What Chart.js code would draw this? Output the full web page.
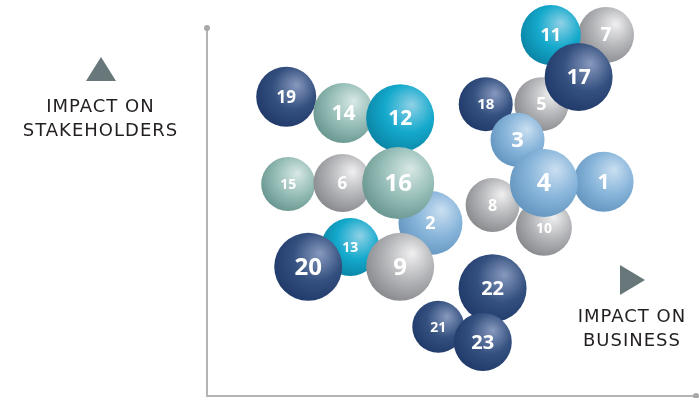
<!DOCTYPE html>
<html>
<head>
<meta charset="utf-8">
<script src="https://cdn.jsdelivr.net/npm/chart.js@4/dist/chart.umd.min.js"></script>
<style>
  body { margin: 0; background: #fff; }
  #wrap { position: relative; width: 699px; height: 398px; }
  .axisTitle {
    position: absolute; text-align: center; color: #231f20;
    font-family: "DejaVu Sans", sans-serif; font-size: 18px; line-height: 24px;
    letter-spacing: 1px; white-space: nowrap;
  }
</style>
</head>
<body>
<div id="wrap">
  <canvas id="matrixChart" width="699" height="398"></canvas>
  <div class="axisTitle" style="left:0; width:201px; top:94px;">IMPACT ON<br>STAKEHOLDERS</div>
  <div class="axisTitle" style="left:571px; width:122px; top:304px;">IMPACT ON<br>BUSINESS</div>
</div>
<script>
// topics 1..23
const topics = ['1','2','3','4','5','6','7','8','9','10','11','12','13','14','15','16','17','18','19','20','21','22','23'];
// impact on business (0-100)
const businessImpact = [81.1, 45.7, 63.5, 68.9, 68.4, 27.7, 81.6, 58.4, 39.5, 68.9, 70.3, 39.5, 29.3, 27.9, 16.6, 39.1, 76.0, 57.0, 16.2, 20.7, 47.3, 58.4, 56.4];
// impact on stakeholders (0-100)
const stakeholderImpact = [58.2, 47.0, 69.6, 57.9, 79.3, 57.9, 98.1, 51.9, 35.1, 45.7, 98.1, 75.5, 40.5, 76.9, 57.6, 57.9, 86.7, 79.3, 81.3, 35.1, 18.8, 29.3, 14.7];
// bubble radius (px)
const bubbleSize = [30, 32, 27, 34, 27, 29, 28, 27, 34, 28, 30, 34, 29, 30, 27, 36, 34, 27, 30, 34, 26, 34, 29];
const topicGroup = ['blue','blue','blue','blue','silver','silver','silver','silver','silver','silver','cyan','cyan','cyan','sage','sage','sage','navy','navy','navy','navy','navy','navy','navy'];
// number font size per topic (px)
const labelPx = [21, 18, 22, 25, 18, 17, 19, 16, 24, 14, 18, 21, 14, 21, 14, 24, 21, 15, 17, 24, 14, 20, 20];
// stacking, bottom first
const drawOrder = ['18','5','7','11','17','3','1','8','10','4','19','14','12','15','6','2','16','13','20','9','21','22','23'];

// highlight, mid, dark
const palette = {
    navy:   ['#8799be', '#34507f', '#1b3565'],
    cyan:   ['#8fd1e6', '#14a9cc', '#087c9c'],
    blue:   ['#cadff1', '#88b5da', '#5b8eba'],
    silver: ['#f0f0f1', '#b4b5b8', '#7e7f83'],
    sage:   ['#d8e8e5', '#97beb8', '#5e8d87']
};

const points = drawOrder.map(t => {
    const i = topics.indexOf(t);
    return { x: businessImpact[i], y: stakeholderImpact[i], r: bubbleSize[i], label: t, group: topicGroup[i], fs: labelPx[i] };
});

function sphereFill(ctx) {
    if (ctx.type !== 'data' || !ctx.raw) return '#999';
    const chart = ctx.chart;
    const p = ctx.raw;
    const c = palette[p.group];
    const cx = chart.scales.x.getPixelForValue(p.x);
    const cy = chart.scales.y.getPixelForValue(p.y);
    const r = p.r;
    if (!isFinite(cx) || !isFinite(cy)) return c[1];
    const g = chart.ctx.createRadialGradient(cx + r * 0.35, cy - r * 0.4, 0, cx + r * 0.2, cy - r * 0.2, r * 1.45);
    g.addColorStop(0, c[0]);
    g.addColorStop(0.5, c[1]);
    g.addColorStop(1, c[2]);
    return g;
}

// axis lines, arrows and bubble numbers
const decorations = {
    id: 'decorations',
    beforeDatasetsDraw(chart) {
        const c = chart.ctx;
        const a = chart.chartArea;
        c.save();
        c.strokeStyle = '#b4b4b4';
        c.lineWidth = 2;
        c.beginPath();
        c.moveTo(a.left, a.top);
        c.lineTo(a.left, a.bottom);
        c.lineTo(a.right, a.bottom);
        c.stroke();
        c.fillStyle = '#a8a8a8';
        c.beginPath(); c.arc(a.left, a.top, 3, 0, Math.PI * 2); c.fill();
        c.beginPath(); c.arc(a.right, a.bottom, 3, 0, Math.PI * 2); c.fill();
        // arrows
        c.fillStyle = '#67777a';
        c.beginPath();
        c.moveTo(101, 57); c.lineTo(116, 81); c.lineTo(86, 81); c.closePath(); c.fill();
        c.beginPath();
        c.moveTo(620, 265); c.lineTo(645, 280); c.lineTo(620, 295); c.closePath(); c.fill();
        c.restore();
    },
    afterDatasetsDraw(chart) {
        const c = chart.ctx;
        const meta = chart.getDatasetMeta(0);
        c.save();
        c.fillStyle = '#ffffff';
        c.textAlign = 'center';
        c.textBaseline = 'middle';
        meta.data.forEach((el, i) => {
            const p = points[i];
            c.font = 'bold ' + p.fs + 'px "Open Sans", sans-serif';
            c.fillText(p.label, el.x, el.y + 1);
        });
        c.restore();
    }
};

const chart = new Chart(document.getElementById('matrixChart'), {
    type: 'bubble',
    data: {
        datasets: [{
            data: points,
            backgroundColor: sphereFill,
            borderWidth: 0,
            hoverBorderWidth: 0,
            clip: false
        }]
    },
    options: {
        responsive: false,
        animation: false,
        layout: { autoPadding: false, padding: { left: 207, right: 3, top: 28, bottom: 2 } },
        plugins: { legend: { display: false }, tooltip: { enabled: false } },
        scales: {
            x: { display: false, min: 0, max: 100 },
            y: { display: false, min: 0, max: 100 }
        }
    },
    plugins: [decorations]
});
</script>
</body>
</html>
